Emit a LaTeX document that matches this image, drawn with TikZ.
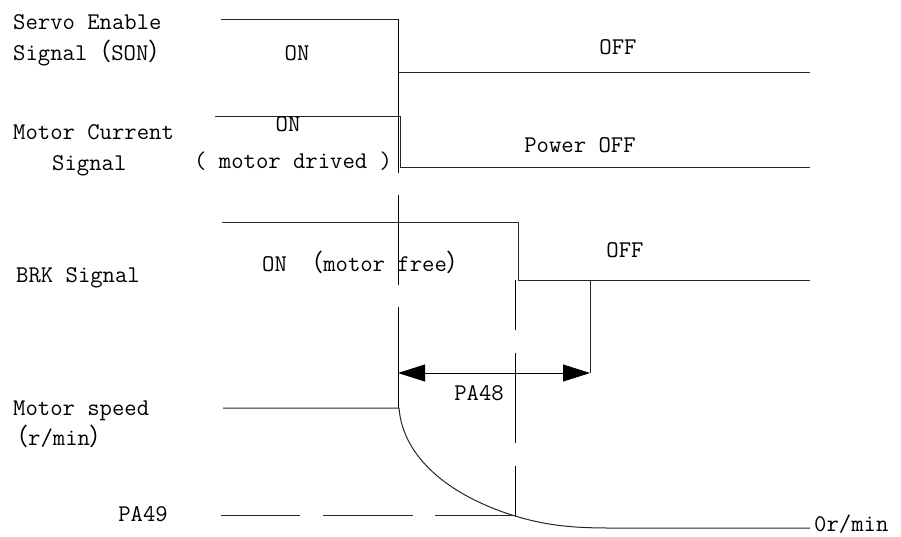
\documentclass[tikz,border=0pt]{standalone}
\usepackage{fontspec}
\newfontfamily\cjk{Noto Sans CJK SC}
\usetikzlibrary{arrows.meta}

\newcommand{\lpar}{{\cjk （}}
\newcommand{\rpar}{{\cjk ）}}

\begin{document}
\begin{tikzpicture}[x=1pt, y=-1pt,
        sig/.style={line width=1pt, color=black!85},
        axisline/.style={line width=1pt, color=black},
        lbl/.style={inner sep=0pt, font=\fontsize{24}{26}\selectfont\ttfamily},
        dimarrow/.style={line width=0.8pt, {Triangle[length=27pt,width=17pt]}-{Triangle[length=27pt,width=17pt]}}
    ]
        \useasboundingbox (0,0) rectangle (901,536);

        % Servo Enable
        \draw[sig] (221,19) -- (398,19) -- (398,72) -- (810,72);
        \node[lbl, anchor=base west] (son1) at (13,29) {Servo Enable};
        \node[lbl, anchor=base west] (son2) at (13,60) {Signal\lpar SON\rpar};
        \node[lbl, anchor=base] (sonon) at (297,60) {ON};
        \node[lbl, anchor=base] (sonoff) at (618,54) {OFF};

        % Motor Current
        \draw[sig] (215,116) -- (400,116) -- (400,167) -- (810,167);
        \node[lbl, anchor=base west] (cur1) at (13,139) {Motor Current};
        \node[lbl, anchor=base west] (cur2) at (52,170) {Signal};
        \node[lbl, anchor=base] (curon) at (288,131) {ON};
        \node[lbl, anchor=base west] (curdrv) at (194,168) {( motor drived )};
        \node[lbl, anchor=base] (curoff) at (580,152) {Power OFF};

        % BRK
        \draw[sig] (222,222) -- (518,222) -- (518,280) -- (810,280);
        \draw[sig] (590,280) -- (590,373);
        \node[lbl, anchor=base west] (brk) at (16,282) {BRK Signal};
        \node[lbl, anchor=base west] (brkon) at (262,271) {ON \lpar motor free\rpar};
        \node[lbl, anchor=base] (brkoff) at (625,257) {OFF};

        % Zeitachsen
        \draw[axisline, dash pattern=on 154pt off 22pt on 90pt off 22pt on 200pt] (398,19) -- (398,408);
        \draw[axisline, dash pattern=on 50pt off 23pt on 90pt off 23pt] (515,280) -- (515,516);

        % PA48
        \coordinate (t0) at (398,373);
        \coordinate (t1) at (590,373);
        \draw[dimarrow] (t0) -- (t1);
        \node[lbl, anchor=base] (pa48) at (479,400) {PA48};

        % Motor speed
        \draw[sig] (223,408) -- (399,408) .. controls (403,458) and (450,496) .. (515,516)
            .. controls (545,525) and (570,528) .. (610,528) -- (810,528);
        \node[lbl, anchor=base west] (spd1) at (13,415) {Motor speed};
        \node[lbl, anchor=base west] (spd2) at (4,445) {\lpar r/min\rpar};
        \node[lbl, anchor=base west] (zero) at (814,531) {0r/min};

        % PA49
        \draw[sig, dash pattern=on 79pt off 23pt on 90pt off 22pt] (221,515) -- (515,515);
        \node[lbl, anchor=base] (pa49) at (143,521) {PA49};
    \end{tikzpicture}
\end{document}
